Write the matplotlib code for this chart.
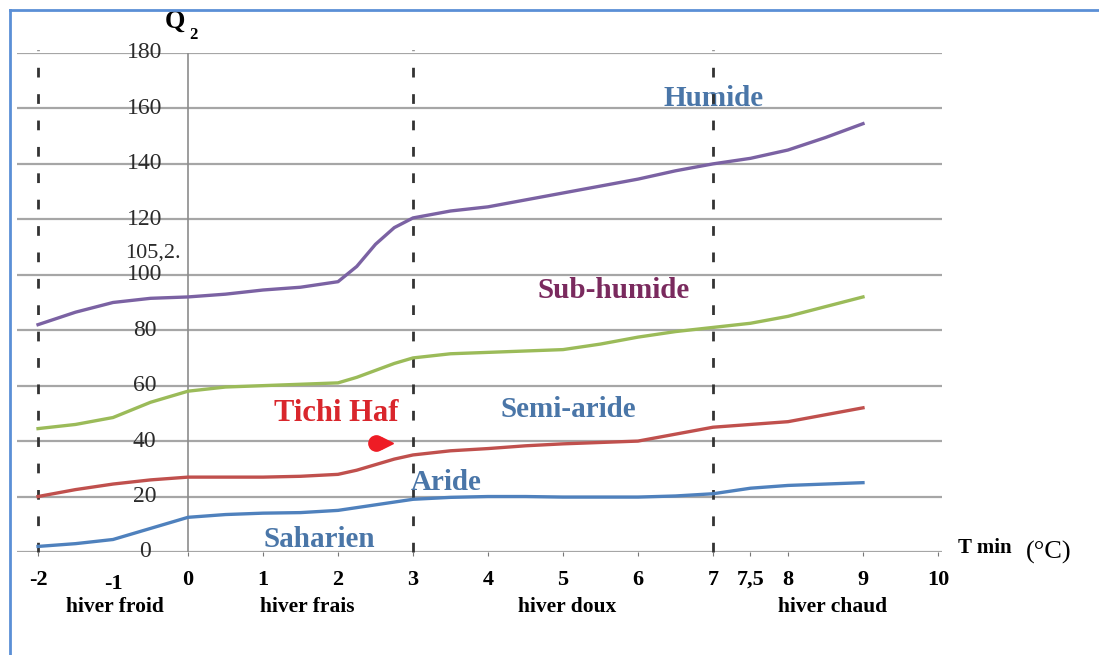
import matplotlib
matplotlib.use('Agg')
import matplotlib.pyplot as plt
from matplotlib.lines import Line2D

plt.rcParams['font.family'] = ['Liberation Serif', 'DejaVu Serif']

t_min = [-2, -1.5, -1, -0.5, 0, 0.5, 1, 1.5, 2, 2.25, 2.5, 2.75, 3,
         3.5, 4, 4.5, 5, 5.5, 6, 6.5, 7, 7.5, 8, 8.5, 9]
q_humide = [82, 86.5, 90, 91.5, 92, 93, 94.5, 95.5, 97.5, 103, 111, 117, 120.5,
            123, 124.5, 127, 129.5, 132, 134.5, 137.5, 140, 142, 145, 149.5, 154.5]
q_subhumide = [44.5, 46, 48.5, 54, 58, 59.5, 60, 60.5, 61, 63, 65.5, 68, 70,
               71.5, 72, 72.5, 73, 75, 77.5, 79.5, 81, 82.5, 85, 88.5, 92]
q_semiaride = [20, 22.5, 24.5, 26, 27, 27, 27, 27.3, 28, 29.5, 31.5, 33.5, 35,
               36.5, 37.3, 38.3, 39, 39.5, 40, 42.5, 45, 46, 47, 49.5, 52]
q_aride = [2, 3, 4.5, 8.5, 12.5, 13.5, 14, 14.2, 15, 16, 17, 18, 19,
           19.7, 20, 20, 19.8, 19.8, 19.8, 20.2, 21, 23, 24, 24.5, 25]

station_t, station_q = 2.55, 39.3   # Tichi Haf

y_ticks = [0, 20, 40, 60, 80, 100, 120, 140, 160, 180]
x_ticks = [-2, 0, 1, 2, 3, 4, 5, 6, 7, 7.5, 8, 9, 10]
x_labels = ['-2', '0', '1', '2', '3', '4', '5', '6', '7', '7,5', '8', '9', '10']
limites_hiver = [-2, 3, 7]

fig = plt.figure(figsize=(10.99, 6.55), dpi=100)
ax = fig.add_axes([0.0155, 0.1573, 0.8414, 0.7618])
ax.set_xlim(-2.28, 10.05)
ax.set_ylim(0, 180)
for s in ax.spines.values():
    s.set_visible(False)

# grille horizontale
for v in y_ticks:
    ax.axhline(v, color='#a6a6a6', lw=1.6, zorder=1)
    ax.text(-0.58, v, str(v), ha='center', va='center', fontsize=17,
            color='#2b2b2b', zorder=2)
ax.axvline(0, color='#8c8c8c', lw=1.2, zorder=1)
for t in limites_hiver:
    ax.plot([t, t], [0, 181], color='#333333', lw=2, ls=(0, (3.5, 6)),
            clip_on=False, zorder=3)

ax.set_xticks(x_ticks)
ax.set_xticklabels(x_labels, fontsize=16, fontweight='bold')
ax.tick_params(axis='x', length=3, color='#777777', pad=10)
ax.set_yticks([])
ax.text(-1, -11.5, '-1', ha='center', va='center', fontsize=16,
        fontweight='bold')

ax.plot(t_min, q_humide, color='#7b62a3', lw=2.4, zorder=4)
ax.plot(t_min, q_subhumide, color='#9bbb59', lw=2.4, zorder=4)
ax.plot(t_min, q_semiaride, color='#c0504d', lw=2.4, zorder=4)
ax.plot(t_min, q_aride, color='#4f81bd', lw=2.4, zorder=4)

ax.plot(station_t - 0.05, station_q, marker='o', ms=11, color='#ee1c25',
        mec='#ee1c25', zorder=5)
ax.plot(station_t + 0.1, station_q, marker='>', ms=9, color='#ee1c25', zorder=5)

bleu = '#4a76a8'
ax.text(7.01, 163.5, 'Humide', color=bleu, fontsize=21, fontweight='bold',
        ha='center', va='center', zorder=2)
ax.text(5.67, 94.5, 'Sub-humide', color='#7a2a5e', fontsize=21,
        fontweight='bold', ha='center', va='center')
ax.text(5.07, 51.5, 'Semi-aride', color=bleu, fontsize=21, fontweight='bold',
        ha='center', va='center')
ax.text(3.44, 25, 'Aride', color=bleu, fontsize=21, fontweight='bold',
        ha='center', va='center')
ax.text(1.75, 4.6, 'Saharien', color=bleu, fontsize=21, fontweight='bold',
        ha='center', va='center')
ax.text(1.97, 50, 'Tichi Haf', color='#d9262c', fontsize=22,
        fontweight='bold', ha='center', va='center')
ax.text(-0.84, 108, '105,2.', fontsize=16, ha='left', va='center',
        color='#2b2b2b')

ax.text(10.63, 1.3, 'T min', fontsize=15, fontweight='bold', ha='center',
        va='center', clip_on=False)
ax.text(11.48, 0, '(°C)', fontsize=19, ha='center', va='center',
        clip_on=False)
ax.text(-0.17, 191.5, 'Q', fontsize=19, fontweight='bold', ha='center',
        va='center', clip_on=False)
ax.text(0.07, 186.5, '2', fontsize=12, fontweight='bold', ha='center',
        va='center', clip_on=False)

for x, nom in [(-0.98, 'hiver froid'), (1.59, 'hiver frais'),
               (5.05, 'hiver doux'), (8.6, 'hiver chaud')]:
    ax.text(x, -20, nom, fontsize=15.5, fontweight='bold', ha='center',
            va='center', clip_on=False)

# cadre bleu
fig.add_artist(Line2D([0.009, 1.0], [0.985, 0.985], color='#5b8fd6', lw=2))
fig.add_artist(Line2D([0.009, 0.009], [0.0, 0.985], color='#5b8fd6', lw=2))

fig.savefig('out.png', dpi=100)
